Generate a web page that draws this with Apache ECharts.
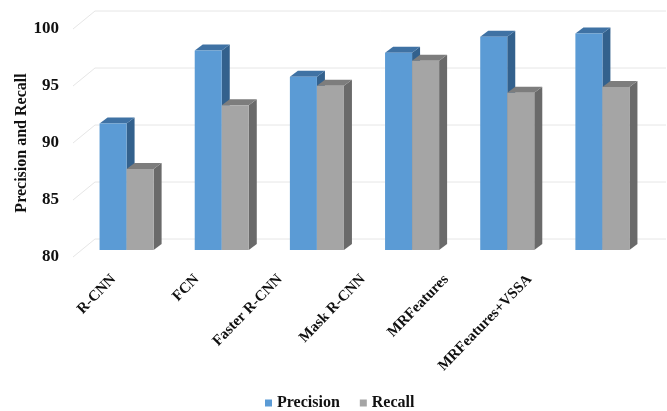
<!DOCTYPE html>
<html>
<head>
<meta charset="utf-8">
<script src="https://cdn.jsdelivr.net/npm/echarts@6/dist/echarts.min.js"></script>
<style>
  html, body { margin: 0; padding: 0; background: #fff; }
  #chart { width: 667px; height: 411px; }
</style>
</head>
<body>
<div id="chart"></div>
<script>
// Detection methods and their scores (%)
const categories = ['R-CNN', 'FCN', 'Faster R-CNN', 'Mask R-CNN', 'MRFeatures', 'MRFeatures+VSSA'];
const precision = [91.1, 97.5, 95.2, 97.3, 98.7, 99.0];
const recall = [87.1, 92.7, 94.4, 96.6, 93.8, 94.3];
const yTicks = [80, 85, 90, 95, 100];

const FONT = '"Liberation Serif", "Times New Roman", serif';

// 3D look: wall depth, bar placement inside the floor, bar depth
const WALL_DX = 22, WALL_DY = -18;
const BAR_SHIFT_X = 6, BAR_SHIFT_Y = -7;
const BAR_DX = 8, BAR_DY = -6;
const BAR_RATIO = 0.284;

const palette = [
  { front: '#5B9BD5', top: '#3F72A4', side: '#33618D' },
  { front: '#A5A5A5', top: '#7D7D7D', side: '#6A6A6A' }
];

function barRenderer(seriesIdx) {
  return function (params, api) {
    const cat = api.value(0);
    const val = api.value(1);
    const base = api.coord([cat, 80]);
    const top = api.coord([cat, val]);
    const w = api.size([1, 0])[0] * BAR_RATIO;
    const x0 = base[0] + BAR_SHIFT_X + (seriesIdx === 0 ? -w : 0);
    const x1 = x0 + w;
    const yb = base[1] + BAR_SHIFT_Y;
    const yt = top[1] + BAR_SHIFT_Y;
    const c = palette[seriesIdx];
    return {
      type: 'group',
      children: [
        {
          type: 'polygon',
          shape: { points: [[x1, yt], [x1 + BAR_DX, yt + BAR_DY], [x1 + BAR_DX, yb + BAR_DY], [x1, yb]] },
          style: { fill: c.side }
        },
        {
          type: 'polygon',
          shape: { points: [[x0, yt], [x1, yt], [x1 + BAR_DX, yt + BAR_DY], [x0 + BAR_DX, yt + BAR_DY]] },
          style: { fill: c.top }
        },
        {
          type: 'rect',
          shape: { x: x0, y: yt, width: w, height: yb - yt },
          style: { fill: c.front }
        }
      ]
    };
  };
}

// Side wall diagonals plus back wall gridlines, one per tick
function wallRenderer(params, api) {
  const v = api.value(1);
  const p = api.coord([0, v]);
  const left = params.coordSys.x;
  const right = params.coordSys.x + params.coordSys.width;
  return {
    type: 'polyline',
    shape: { points: [[left, p[1]], [left + WALL_DX, p[1] + WALL_DY], [right + WALL_DX, p[1] + WALL_DY]] },
    style: { stroke: '#E6E6E6', lineWidth: 1, fill: null }
  };
}

const labelFont = { fontFamily: FONT, fontWeight: 'bold', color: '#111' };

const chart = echarts.init(document.getElementById('chart'), null, { renderer: 'canvas' });
chart.setOption({
  animation: false,
  backgroundColor: '#fff',
  grid: [
    { left: 73, right: 23, top: 29, bottom: 154 },
    // narrower band for the slanted category labels (front-floor perspective)
    { left: 72, right: 96, top: 29, bottom: 154 }
  ],
  legend: {
    data: ['Precision', 'Recall'],
    left: 265,
    top: 395,
    padding: 0,
    icon: 'rect',
    itemWidth: 7,
    itemHeight: 7,
    itemGap: 20,
    textStyle: Object.assign({ fontSize: 16 }, labelFont)
  },
  xAxis: [
    {
      type: 'category',
      gridIndex: 0,
      data: categories,
      axisLine: { show: false },
      axisTick: { show: false },
      axisLabel: { show: false }
    },
    {
      type: 'category',
      gridIndex: 1,
      data: categories,
      axisLine: { show: false },
      axisTick: { show: false },
      axisLabel: Object.assign({ rotate: 46, margin: 20, interval: 0, fontSize: 15 }, labelFont)
    }
  ],
  yAxis: [
    {
      type: 'value',
      gridIndex: 0,
      min: 80,
      max: 100,
      interval: 5,
      name: 'Precision and Recall',
      nameLocation: 'middle',
      nameGap: 43,
      nameMoveOverlap: false,
      nameTextStyle: Object.assign({ fontSize: 16 }, labelFont),
      axisLine: { show: false },
      axisTick: { show: false },
      splitLine: { show: false },
      axisLabel: Object.assign({ margin: 14, fontSize: 17 }, labelFont)
    },
    {
      type: 'value',
      gridIndex: 1,
      min: 80,
      max: 100,
      show: false,
      splitLine: { show: false }
    }
  ],
  series: [
    {
      type: 'custom',
      name: 'wall',
      silent: true,
      z: 1,
      renderItem: wallRenderer,
      data: yTicks.map(v => [0, v])
    },
    {
      type: 'custom',
      name: 'Precision',
      z: 2,
      itemStyle: { color: palette[0].front },
      renderItem: barRenderer(0),
      data: precision.map((v, i) => [i, v])
    },
    {
      type: 'custom',
      name: 'Recall',
      z: 3,
      itemStyle: { color: palette[1].front },
      renderItem: barRenderer(1),
      data: recall.map((v, i) => [i, v])
    }
  ]
});
</script>
</body>
</html>
